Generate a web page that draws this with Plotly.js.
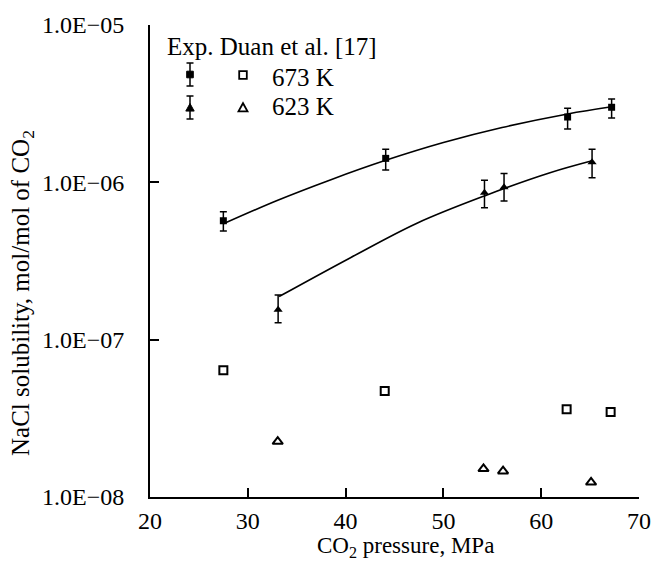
<!DOCTYPE html>
<html>
<head>
<meta charset="utf-8">
<script src="https://cdn.plot.ly/plotly-3.0.1.min.js"></script>
<style>html,body{margin:0;padding:0;background:#fff;}#chart{width:655px;height:561px;}</style>
</head>
<body>
<div id="chart"></div>
<script>
// ---- data ----
// experimental points with error bars (this work)
const p673 = [27.5, 44.1, 62.7, 67.2];
const s673 = [5.7e-7, 1.42e-6, 2.6e-6, 3.0e-6];
const s673Plus = [0.8e-7, 0.20e-6, 0.36e-6, 0.39e-6];
const s673Minus = [0.8e-7, 0.22e-6, 0.42e-6, 0.44e-6];

const p623 = [33.1, 54.2, 56.2, 65.2];
const s623 = [1.55e-7, 8.6e-7, 9.3e-7, 1.34e-6];
const s623Plus = [0.37e-7, 0.17e-6, 0.21e-6, 0.28e-6];
const s623Minus = [0.27e-7, 0.17e-6, 0.17e-6, 0.27e-6];

// Duan et al. [17]
const pDuan673 = [27.5, 44.0, 62.6, 67.1];
const sDuan673 = [6.39e-8, 4.72e-8, 3.61e-8, 3.47e-8];
const pDuan623 = [33.06, 54.1, 56.1, 65.1];
const sDuan623 = [2.25e-8, 1.51e-8, 1.46e-8, 1.24e-8];

// fitted curves
const fitP673 = [27.5, 33.0, 38.5, 44.1, 50.0, 56.0, 62.7, 67.2];
const fitS673 = [5.45e-7, 7.67e-7, 1.04e-6, 1.38e-6, 1.79e-6, 2.23e-6, 2.72e-6, 3.02e-6];
const fitP623 = [33.2, 40.5, 47.3, 54.2, 60.9, 65.2];
const fitS623 = [1.88e-7, 3.32e-7, 5.5e-7, 8.2e-7, 1.15e-6, 1.37e-6];

const xTicks = [20, 30, 40, 50, 60, 70];
const yTickVals = [1e-8, 1e-7, 1e-6, 1e-5];
const yTickText = ['1.0E\u221208', '1.0E\u221207', '1.0E\u221206', '1.0E\u221205'];

// ---- layout helpers ----
const L = 150, R = 639, T = 25, B = 497, W = 655, H = 561;
const px = x => (x - L) / (R - L);
const py = y => (B - y) / (B - T);
const FONT = 'Liberation Serif, Times New Roman, serif';
const FS = 24;

const traces = [
  {x: fitP673, y: fitS673, mode: 'lines', line: {color: '#000', width: 1.6, shape: 'spline', smoothing: 1}, hoverinfo: 'skip'},
  {x: fitP623, y: fitS623, mode: 'lines', line: {color: '#000', width: 1.6, shape: 'spline', smoothing: 1}, hoverinfo: 'skip'},
  {x: p673, y: s673, mode: 'markers', marker: {symbol: 'square', size: 7, color: '#000'},
   error_y: {type: 'data', symmetric: false, array: s673Plus, arrayminus: s673Minus, color: '#000', thickness: 1.5, width: 3.5}},
  {x: p623, y: s623, mode: 'markers', marker: {symbol: 'triangle-up', size: 8, color: '#000'},
   error_y: {type: 'data', symmetric: false, array: s623Plus, arrayminus: s623Minus, color: '#000', thickness: 1.5, width: 3.5}},
  {x: pDuan673, y: sDuan673, mode: 'markers', marker: {symbol: 'square-open', size: 8, color: '#000', line: {width: 2}}},
  {x: pDuan623, y: sDuan623, mode: 'markers', marker: {symbol: 'triangle-up-open', size: 9, color: '#000', line: {width: 2}}}
];

function vline(x, y0, y1, w) {
  return {type: 'line', xref: 'paper', yref: 'paper', x0: px(x), x1: px(x), y0: py(y0), y1: py(y1), line: {color: '#000', width: w}};
}
function hline(x0, x1, y, w) {
  return {type: 'line', xref: 'paper', yref: 'paper', x0: px(x0), x1: px(x1), y0: py(y), y1: py(y), line: {color: '#000', width: w}};
}
function tri(cx, cy, s, fill) {
  const path = 'M ' + px(cx - s) + ' ' + py(cy + s * 0.85) + ' L ' + px(cx + s) + ' ' + py(cy + s * 0.85) +
               ' L ' + px(cx) + ' ' + py(cy - s * 0.95) + ' Z';
  return {type: 'path', xref: 'paper', yref: 'paper', path: path,
          fillcolor: fill ? '#000' : 'rgba(0,0,0,0)', line: {color: '#000', width: fill ? 1 : 1.8}};
}
function sq(cx, cy, s, fill) {
  return {type: 'rect', xref: 'paper', yref: 'paper', x0: px(cx - s), x1: px(cx + s), y0: py(cy + s), y1: py(cy - s),
          fillcolor: fill ? '#000' : 'rgba(0,0,0,0)', line: {color: '#000', width: fill ? 1 : 1.8}};
}

const shapes = [
  // row 1: filled square with error bar, open square
  vline(190, 63, 86, 1.5), hline(186.5, 193.5, 63, 1.5), hline(186.5, 193.5, 86, 1.5),
  sq(190, 74.5, 3.3, true),
  sq(243, 75, 3.8, false),
  // row 2: filled triangle with error bar, open triangle
  vline(190, 96, 119, 1.5), hline(186.5, 193.5, 96, 1.5), hline(186.5, 193.5, 119, 1.5),
  tri(190, 107.5, 4.2, true),
  tri(243, 107.5, 4.5, false)
];

const annotations = [
  {xref: 'paper', yref: 'paper', x: px(165), y: py(46), xanchor: 'left', yanchor: 'middle', showarrow: false,
   text: 'Exp. Duan et al. [17]', font: {family: FONT, size: 25, color: '#000'}},
  {xref: 'paper', yref: 'paper', x: px(270), y: py(77), xanchor: 'left', yanchor: 'middle', showarrow: false,
   text: '673 K', font: {family: FONT, size: 25, color: '#000'}},
  {xref: 'paper', yref: 'paper', x: px(270), y: py(106), xanchor: 'left', yanchor: 'middle', showarrow: false,
   text: '623 K', font: {family: FONT, size: 25, color: '#000'}},
  // axis titles
  {xref: 'paper', yref: 'paper', x: px(405), y: py(547), xanchor: 'center', yanchor: 'middle', showarrow: false,
   text: 'CO<sub>2</sub> pressure, MPa', font: {family: FONT, size: 23, color: '#000'}},
  {xref: 'paper', yref: 'paper', x: px(22), y: py(293), xanchor: 'center', yanchor: 'middle', showarrow: false,
   textangle: -90, text: 'NaCl solubility, mol/mol of CO<sub>2</sub>', font: {family: FONT, size: 25, color: '#000'}}
];

const layout = {
  width: W, height: H,
  margin: {l: L, r: W - R, t: T, b: H - B},
  paper_bgcolor: '#fff', plot_bgcolor: '#fff',
  showlegend: false,
  font: {family: FONT, size: FS, color: '#000'},
  xaxis: {
    range: [20, 70], tickvals: xTicks, ticktext: xTicks.map(String),
    ticks: 'inside', ticklen: 9, tickwidth: 2, tickcolor: '#000',
    showline: true, linewidth: 2, linecolor: '#000', mirror: false,
    showgrid: false, zeroline: false, ticklabelstandoff: 1,
    tickfont: {family: FONT, size: FS, color: '#000'}
  },
  yaxis: {
    type: 'log', range: [-8, -5], tickvals: yTickVals, ticktext: yTickText,
    ticks: 'inside', ticklen: 9, tickwidth: 2, tickcolor: '#000',
    showline: true, linewidth: 2, linecolor: '#000', mirror: false,
    showgrid: false, zeroline: false, ticklabelstandoff: 19,
    tickfont: {family: FONT, size: FS, color: '#000'}
  },
  shapes: shapes,
  annotations: annotations
};

Plotly.newPlot('chart', traces, layout, {staticPlot: true, displayModeBar: false});
</script>
</body>
</html>
